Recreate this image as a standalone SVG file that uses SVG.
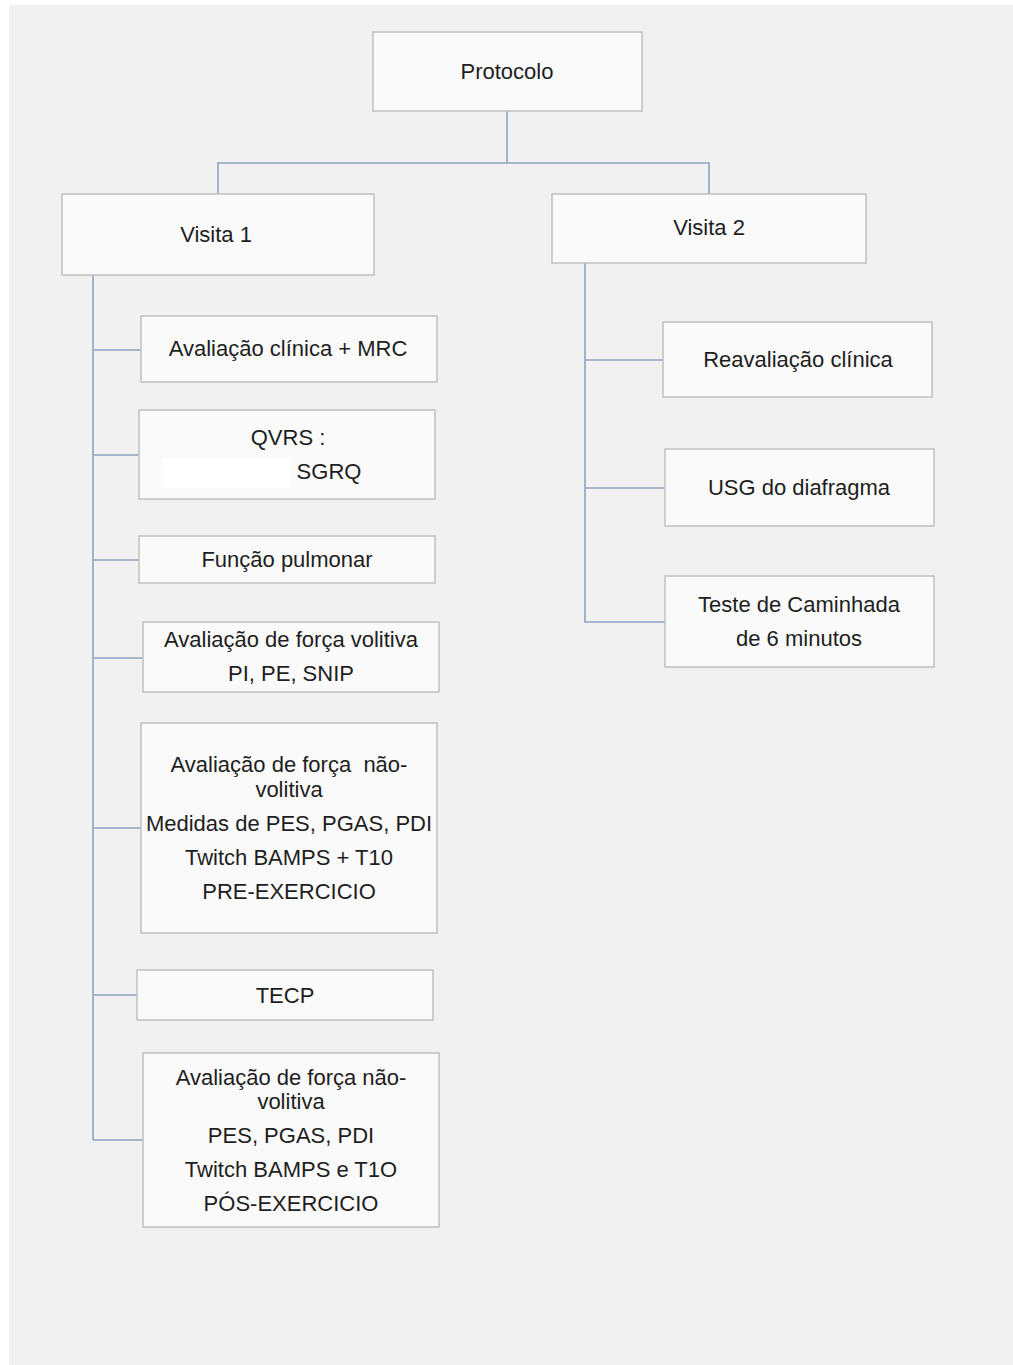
<svg xmlns="http://www.w3.org/2000/svg" width="1013" height="1365" viewBox="0 0 1013 1365">
<style>
.box{fill:#fafafa;stroke:#c4c4c4;stroke-width:1.6}
.t{font-family:"Liberation Sans",Arial,sans-serif;font-size:22px;fill:#1e1e1e;text-anchor:middle}
.c{fill:none;stroke:#8fa3bf;stroke-width:1.6}
</style>
<rect x="0" y="0" width="1013" height="1365" fill="#ffffff"/>
<rect x="9" y="5" width="1004" height="1360" fill="#f1f1f1"/>
<g id="connectors">
<path class="c" d="M507,111 V163 M218,194 V163 H709 V194"/>
<path class="c" d="M93,275 V1140 M93,350 H141 M93,455 H139 M93,560 H139 M93,658 H143 M93,828 H141 M93,995 H137 M93,1140 H143"/>
<path class="c" d="M585,263 V622 H665 M585,360 H663 M585,488 H665"/>
</g>
<g id="protocolo"><rect class="box" x="373" y="32" width="269" height="79"/><text class="t" x="507" y="79">Protocolo</text></g>
<g id="visita1"><rect class="box" x="62" y="194" width="312" height="81"/><text class="t" x="216" y="242">Visita 1</text></g>
<g id="visita2"><rect class="box" x="552" y="194" width="314" height="69"/><text class="t" x="709" y="235">Visita 2</text></g>
<g id="avaliacao-clinica"><rect class="box" x="141" y="316" width="296" height="66"/><text class="t" x="288" y="356">Avaliação clínica + MRC</text></g>
<g id="qvrs"><rect class="box" x="139" y="410" width="296" height="89"/><rect x="163" y="459" width="127" height="29" fill="#ffffff"/><text class="t" x="288" y="445">QVRS :</text><text class="t" x="329" y="479">SGRQ</text></g>
<g id="funcao-pulmonar"><rect class="box" x="139" y="536" width="296" height="47"/><text class="t" x="287" y="567">Função pulmonar</text></g>
<g id="forca-volitiva"><rect class="box" x="143" y="622" width="296" height="70"/><text class="t" x="291" y="647">Avaliação de força volitiva</text><text class="t" x="291" y="681">PI, PE, SNIP</text></g>
<g id="forca-nao-volitiva-pre"><rect class="box" x="141" y="723" width="296" height="210"/><text class="t" x="289" y="772">Avaliação de força&#160; não-</text><text class="t" x="289" y="797">volitiva</text><text class="t" x="289" y="831">Medidas de PES, PGAS, PDI</text><text class="t" x="289" y="865">Twitch BAMPS + T10</text><text class="t" x="289" y="899">PRE-EXERCICIO</text></g>
<g id="tecp"><rect class="box" x="137" y="970" width="296" height="50"/><text class="t" x="285" y="1003">TECP</text></g>
<g id="forca-nao-volitiva-pos"><rect class="box" x="143" y="1053" width="296" height="174"/><text class="t" x="291" y="1085">Avaliação de força não-</text><text class="t" x="291" y="1109">volitiva</text><text class="t" x="291" y="1143">PES, PGAS, PDI</text><text class="t" x="291" y="1177">Twitch BAMPS e T1O</text><text class="t" x="291" y="1211">PÓS-EXERCICIO</text></g>
<g id="reavaliacao"><rect class="box" x="663" y="322" width="269" height="75"/><text class="t" x="798" y="367">Reavaliação clínica</text></g>
<g id="usg"><rect class="box" x="665" y="449" width="269" height="77"/><text class="t" x="799" y="495">USG do diafragma</text></g>
<g id="teste-caminhada"><rect class="box" x="665" y="576" width="269" height="91"/><text class="t" x="799" y="612">Teste de Caminhada</text><text class="t" x="799" y="646">de 6 minutos</text></g>
</svg>
